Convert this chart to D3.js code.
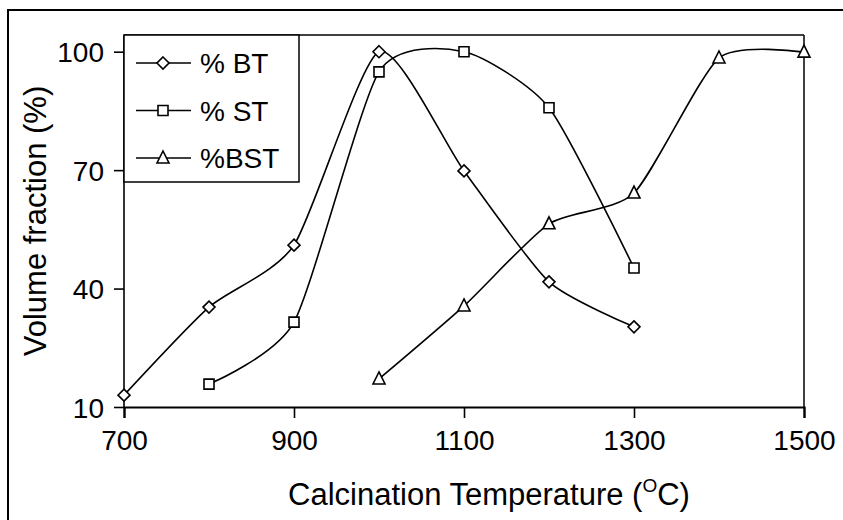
<!DOCTYPE html>
<html><head><meta charset="utf-8">
<script src="https://cdn.jsdelivr.net/npm/d3@7/dist/d3.min.js"></script>
<style>body{margin:0;background:#fff}svg{display:block}text{font-family:"Liberation Sans",Arial,sans-serif;fill:#000}</style>
</head><body><svg id="c" width="843" height="520"></svg>
<script>
const xTicks = [700, 900, 1100, 1300, 1500];
const yTicks = [10, 40, 70, 100];
const btTemps = [700, 800, 900, 1000, 1100, 1200, 1300];
const btValues = [13, 35.3, 51, 100, 69.8, 41.7, 30.3];
const stTemps = [800, 900, 1000, 1100, 1200, 1300];
const stValues = [15.8, 31.5, 94.9, 100, 85.8, 45.2];
const bstTemps = [1000, 1100, 1200, 1300, 1400, 1500];
const bstValues = [17.1, 35.6, 56.4, 64.2, 98.4, 99.9];
const seriesNames = ["% BT", "% ST", "%BST"];

const svg = d3.select("#c");
const L = 124, R = 804, T = 35, B = 407;
const x = d3.scaleLinear().domain([700, 1500]).range([L, R]);
const y = d3.scaleLinear().domain([10, 100]).range([B, 51.7]);

svg.append("rect").attr("x", 8).attr("y", 10).attr("width", 900).attr("height", 600)
  .attr("fill", "none").attr("stroke", "#000").attr("stroke-width", 2);

svg.append("line").attr("x1", L).attr("x2", R).attr("y1", T).attr("y2", T).attr("stroke", "#000").attr("stroke-width", 1.5);
svg.append("line").attr("x1", R).attr("x2", R).attr("y1", T).attr("y2", B).attr("stroke", "#000").attr("stroke-width", 1.5);

const fs = 28, tfs = 31;
const xa = svg.append("g").attr("transform", `translate(0,${B})`)
  .call(d3.axisBottom(x).tickValues(xTicks).tickSize(11).tickPadding(12).tickFormat(d3.format("d")));
xa.select(".domain").attr("stroke-width", 2.2);
xa.selectAll(".tick line").attr("stroke-width", 1.6);
xa.selectAll("text").attr("font-size", fs).attr("font-family", "Liberation Sans, Arial, sans-serif");

const ya = svg.append("g").attr("transform", `translate(${L},0)`)
  .call(d3.axisLeft(y).tickValues(yTicks).tickSize(10).tickPadding(10).tickFormat(d3.format("d")));
ya.select(".domain").attr("stroke-width", 1.6).attr("d", `M0,${T}V${B}`);
ya.selectAll(".tick line").attr("stroke-width", 1.6);
ya.selectAll("text").attr("font-size", fs).attr("font-family", "Liberation Sans, Arial, sans-serif").attr("dy", "0.36em");

const xt = svg.append("text").attr("x", 489).attr("y", 505).attr("text-anchor", "middle").attr("font-size", tfs);
xt.append("tspan").text("Calcination Temperature (");
xt.append("tspan").attr("font-size", 19).attr("dy", -13).text("O");
xt.append("tspan").attr("dy", 13).text("C)");
svg.append("text").attr("transform", "translate(46,221) rotate(-90)").attr("text-anchor", "middle")
  .attr("font-size", tfs).text("Volume fraction (%)");

const line = d3.line().x(d => x(d[0])).y(d => y(d[1])).curve(d3.curveCardinal.tension(0.35));
const series = [
  {name: seriesNames[0], pts: btTemps.map((t, i) => [t, btValues[i]]), sym: "diamond"},
  {name: seriesNames[1], pts: stTemps.map((t, i) => [t, stValues[i]]), sym: "square"},
  {name: seriesNames[2], pts: bstTemps.map((t, i) => [t, bstValues[i]]), sym: "triangle"}
];
function marker(g, sym, cx, cy) {
  let p;
  if (sym === "diamond") p = `M${cx},${cy-6}L${cx+6},${cy}L${cx},${cy+6}L${cx-6},${cy}Z`;
  else if (sym === "square") p = `M${cx-5},${cy-5}h10v10h-10Z`;
  else p = `M${cx},${cy-7}L${cx+6},${cy+5}L${cx-6},${cy+5}Z`;
  g.append("path").attr("d", p).attr("fill", "#fff").attr("stroke", "#000").attr("stroke-width", 1.6);
}
series.forEach(s => {
  svg.append("path").datum(s.pts).attr("d", line).attr("fill", "none").attr("stroke", "#000").attr("stroke-width", 1.6);
  const g = svg.append("g");
  s.pts.forEach(p => marker(g, s.sym, x(p[0]), y(p[1])));
});

const lg = svg.append("g");
lg.append("rect").attr("x", L).attr("y", T).attr("width", 175).attr("height", 147)
  .attr("fill", "#fff").attr("stroke", "#000").attr("stroke-width", 1.5);
series.forEach((s, i) => {
  const ly = 63 + i * 47.5;
  lg.append("line").attr("x1", 136).attr("x2", 191).attr("y1", ly).attr("y2", ly).attr("stroke", "#000").attr("stroke-width", 1.6);
  marker(lg, s.sym, 163, ly);
  lg.append("text").attr("x", 200).attr("y", ly).attr("dy", "0.36em").attr("font-size", fs).text(s.name);
});
</script></body></html>
